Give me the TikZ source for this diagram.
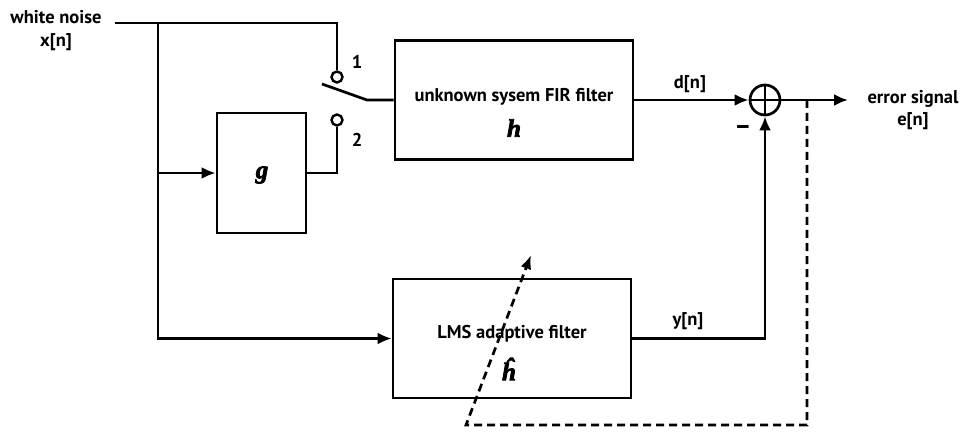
\documentclass[tikz,border=0pt]{standalone}
\usepackage{fontspec}
\newfontfamily\lblfont{PT Sans}
\newfontfamily\varfont[FakeBold=3]{Liberation Serif}
\usetikzlibrary{arrows.meta}
\newcommand{\mvar}[1]{{\varfont\bfseries\itshape #1}}
\begin{document}
\begin{tikzpicture}[x=1pt,y=-1pt,
  wire/.style={line width=2.7pt},
  arr/.style={wire,-{Latex[length=14pt,width=12pt]}},
  blk/.style={draw,line width=2.7pt,inner sep=0pt},
  lbl/.style={font=\lblfont\bfseries\fontsize{18.5}{20}\selectfont,inner sep=1pt},
  mth/.style={font=\fontsize{25}{27}\selectfont,inner sep=0pt},
  contact/.style={circle,draw,line width=2.4pt,minimum size=11pt,inner sep=0pt},
  fb/.style={wire,dash pattern=on 8pt off 5pt}]
\useasboundingbox (0,0) rectangle (962,433);
% blocks
\node[blk,minimum width=238pt,minimum height=119pt] (fir) at (514,100) {};
\node[blk,minimum width=89pt,minimum height=120pt] (g) at (261.5,173) {};
\node[blk,minimum width=238pt,minimum height=119pt] (lms) at (512,338.5) {};
\node[circle,draw,line width=2.7pt,minimum size=30pt,inner sep=0pt] (sum) at (765,100) {};
\draw[line width=2.2pt] (sum.north) -- (sum.south) (sum.west) -- (sum.east);
% block texts
\node[lbl] (firt) at (514,97) {unknown sysem FIR filter};
\node[mth] (firh) at (514,128) {\mvar{h}};
\node[mth] (gt) at (262,175) {\mvar{g}};
\node[lbl] (lmst) at (512,334) {LMS adaptive filter};
\node[mth] (lmsh) at (509,369) {\mvar{ĥ}};
% switch contacts
\node[contact] (s1) at (337,77) {};
\node[contact] (s2) at (337,120) {};
\node[lbl] (n1) at (357,62) {1};
\node[lbl] (n2) at (357,140) {2};
% coordinates
\coordinate (in) at (115,23);
\coordinate (br) at (158,23);
\coordinate (tr) at (337,23);
\coordinate (gbr) at (158,173);
\coordinate (lv0) at (322,84);
\coordinate (lv1) at (367,100);
\coordinate (out) at (848,100);
\coordinate (tap) at (807,100);
\coordinate (d1) at (807,425);
\coordinate (d2) at (466,425);
\coordinate (d3) at (531,255);
% wires
\draw[wire] (in) -- (tr) -- (s1.north);
\draw[arr] (br) |- (lms.west);
\draw[arr] (gbr) -- (g.west);
\draw[wire] (g.east) -| (s2.south);
\draw[wire] (lv0) -- (lv1) -- (fir.west);
\draw[arr] (fir.east) -- (sum.west);
\draw[arr] (sum.east) -- (out);
\draw[arr] (lms.east) -| (sum.south);
\draw[fb,-{Latex[length=14pt,width=11pt]}] (tap) -- (d1) -- (d2) -- (d3);
% labels
\node[lbl] (wn) at (56,17) {white noise};
\node[lbl] (xn) at (56,42) {x[n]};
\node[lbl] (dn) at (690,84) {d[n]};
\node[lbl] (yn) at (688,321) {y[n]};
\node[font=\lblfont\bfseries\fontsize{26}{26}\selectfont,inner sep=0pt] (minus) at (743,130) {–};
\node[lbl] (es) at (913,99) {error signal};
\node[lbl] (en) at (913,121) {e[n]};
\end{tikzpicture}
\end{document}
